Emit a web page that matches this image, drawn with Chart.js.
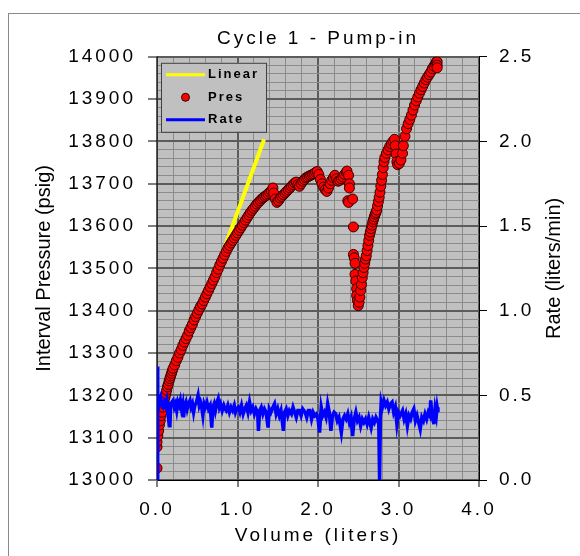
<!DOCTYPE html>
<html>
<head>
<meta charset="utf-8">
<title>Cycle 1 - Pump-in</title>
<script src="https://cdn.jsdelivr.net/npm/chart.js@4.4.1/dist/chart.umd.min.js"></script>
<style>
  html, body { margin: 0; padding: 0; background: #fff; }
  #wrap { position: relative; width: 580px; height: 556px; }
</style>
</head>
<body>
<div id="wrap"><canvas id="pumpChart" width="580" height="556"></canvas></div>
<script>
// --- Pump-in data ---
const chartTitle = 'Cycle 1 - Pump-in';
const volumeTitle = 'Volume (liters)';
const pressureTitle = 'Interval Pressure (psig)';
const rateTitle = 'Rate (liters/min)';

// Interval pressure readings (liters, psig)
const presVolume = [
  0.00, 0.00, 0.00, 0.01, 0.02, 0.03, 0.04, 0.05, 0.06, 0.07, 0.08, 0.09, 0.10, 0.11, 0.12, 0.13,
  0.14, 0.15, 0.16, 0.17, 0.18, 0.19, 0.20, 0.22, 0.24, 0.26, 0.28, 0.30, 0.32, 0.34, 0.36, 0.38,
  0.40, 0.42, 0.44, 0.46, 0.48, 0.50, 0.52, 0.54, 0.56, 0.58, 0.60, 0.62, 0.64, 0.66, 0.68, 0.70,
  0.72, 0.74, 0.76, 0.78, 0.80, 0.82, 0.84, 0.86, 0.88, 0.90, 0.92, 0.94, 0.96, 0.98, 1.00, 1.02,
  1.04, 1.06, 1.08, 1.10, 1.12, 1.14, 1.16, 1.18, 1.20, 1.22, 1.24, 1.26, 1.28, 1.30, 1.32, 1.34,
  1.36, 1.38, 1.40, 1.42, 1.44, 1.45, 1.47, 1.49, 1.51, 1.53, 1.55, 1.57, 1.59, 1.61, 1.63, 1.65,
  1.67, 1.69, 1.71, 1.73, 1.75, 1.77, 1.79, 1.81, 1.83, 1.85, 1.87, 1.89, 1.91, 1.93, 1.95, 1.97,
  1.99, 2.01, 2.03, 2.05, 2.07, 2.09, 2.11, 2.13, 2.15, 2.17, 2.19, 2.21, 2.23, 2.25, 2.27, 2.29,
  2.31, 2.33, 2.35, 2.36, 2.38, 2.39, 2.39, 2.37, 2.38, 2.43, 2.44, 2.44, 2.45, 2.46, 2.46, 2.47,
  2.48, 2.48, 2.49, 2.50, 2.51, 2.52, 2.53, 2.54, 2.55, 2.56, 2.57, 2.58, 2.59, 2.60, 2.61, 2.62,
  2.63, 2.64, 2.65, 2.66, 2.67, 2.68, 2.69, 2.70, 2.71, 2.72, 2.73, 2.74, 2.75, 2.76, 2.77, 2.78,
  2.79, 2.80, 2.81, 2.82, 2.83, 2.85, 2.87, 2.89, 2.91, 2.93, 2.95, 2.96, 2.97, 2.98, 2.99, 3.01,
  3.03, 3.05, 3.06, 3.08, 3.10, 3.12, 3.14, 3.16, 3.18, 3.20, 3.22, 3.24, 3.26, 3.28, 3.30, 3.32,
  3.34, 3.36, 3.38, 3.40, 3.42, 3.44, 3.46, 3.47, 3.48, 3.48, 3.48
];
const presValue = [
  13028, 13078, 13090, 13104, 13116, 13130, 13140, 13152, 13160, 13172, 13180, 13188, 13196, 13204, 13212, 13220,
  13226, 13234, 13240, 13246, 13252, 13258, 13264, 13272, 13282, 13290, 13300, 13308, 13318, 13326, 13334, 13342,
  13352, 13360, 13368, 13378, 13386, 13394, 13402, 13410, 13416, 13424, 13432, 13440, 13448, 13456, 13464, 13472,
  13480, 13490, 13498, 13508, 13516, 13524, 13532, 13540, 13548, 13554, 13560, 13566, 13572, 13578, 13584, 13590,
  13596, 13602, 13608, 13614, 13620, 13626, 13632, 13637, 13642, 13647, 13652, 13656, 13660, 13664, 13667, 13670,
  13673, 13676, 13680, 13683, 13690, 13678, 13664, 13656, 13660, 13666, 13670, 13674, 13678, 13682, 13686, 13690,
  13694, 13698, 13702, 13704, 13698, 13694, 13700, 13706, 13710, 13714, 13716, 13718, 13720, 13722, 13724, 13727,
  13729, 13722, 13710, 13700, 13692, 13686, 13682, 13690, 13700, 13708, 13714, 13720, 13712, 13706, 13708, 13712,
  13716, 13722, 13727, 13730, 13720, 13700, 13690, 13660, 13656, 13664, 13598, 13533, 13525, 13512, 13486, 13470,
  13452, 13436, 13424, 13412, 13420, 13432, 13448, 13462, 13478, 13490, 13502, 13512, 13522, 13530, 13542, 13554,
  13566, 13578, 13586, 13594, 13602, 13610, 13616, 13622, 13628, 13632, 13638, 13648, 13658, 13668, 13680, 13694,
  13708, 13722, 13738, 13752, 13762, 13772, 13780, 13788, 13794, 13800, 13805, 13790, 13770, 13752, 13745, 13748,
  13756, 13772, 13790, 13812, 13830, 13842, 13852, 13862, 13874, 13886, 13896, 13905, 13914, 13922, 13930, 13938,
  13946, 13952, 13958, 13964, 13972, 13978, 13983, 13988, 13988, 13980, 13974
];

// Injection rate log (liters, liters/min)
const rateVolume = [
  0.000, 0.005, 0.012, 0.020, 0.030, 0.045, 0.060, 0.075, 0.090, 0.105, 0.120, 0.135, 0.150, 0.160, 0.170, 0.185,
  0.200, 0.215, 0.230, 0.245, 0.260, 0.275, 0.290, 0.305, 0.320, 0.330, 0.345, 0.360, 0.375, 0.390, 0.410, 0.425,
  0.440, 0.455, 0.470, 0.490, 0.510, 0.525, 0.540, 0.555, 0.570, 0.585, 0.600, 0.620, 0.640, 0.660, 0.680, 0.695,
  0.710, 0.725, 0.745, 0.760, 0.775, 0.790, 0.810, 0.830, 0.845, 0.860, 0.880, 0.900, 0.920, 0.940, 0.960, 0.975,
  0.990, 1.010, 1.030, 1.050, 1.070, 1.090, 1.110, 1.130, 1.150, 1.170, 1.190, 1.210, 1.230, 1.250, 1.260, 1.275,
  1.295, 1.315, 1.335, 1.355, 1.380, 1.395, 1.415, 1.440, 1.460, 1.480, 1.500, 1.520, 1.540, 1.570, 1.585, 1.605,
  1.625, 1.645, 1.670, 1.690, 1.710, 1.730, 1.750, 1.770, 1.790, 1.810, 1.840, 1.860, 1.880, 1.900, 1.920, 1.940,
  1.960, 1.980, 2.000, 2.020, 2.040, 2.060, 2.080, 2.100, 2.120, 2.140, 2.160, 2.180, 2.200, 2.220, 2.240, 2.260,
  2.290, 2.310, 2.330, 2.350, 2.370, 2.390, 2.410, 2.430, 2.450, 2.470, 2.490, 2.510, 2.530, 2.550, 2.570, 2.590,
  2.610, 2.630, 2.660, 2.680, 2.700, 2.720, 2.740, 2.755, 2.765, 2.775, 2.785, 2.800, 2.820, 2.840, 2.860, 2.880,
  2.900, 2.920, 2.940, 2.960, 2.980, 3.000, 3.020, 3.050, 3.070, 3.090, 3.110, 3.130, 3.150, 3.170, 3.190, 3.210,
  3.230, 3.250, 3.270, 3.290, 3.310, 3.330, 3.350, 3.370, 3.390, 3.400, 3.415, 3.430, 3.440, 3.455, 3.470, 3.480,
  3.490
];
const rateValue = [
  0.00, 0.67, 0.50, 0.44, 0.47, 0.49, 0.44, 0.43, 0.46, 0.44, 0.47, 0.40, 0.46, 0.31, 0.44, 0.46,
  0.47, 0.43, 0.45, 0.41, 0.46, 0.44, 0.47, 0.42, 0.45, 0.37, 0.44, 0.46, 0.42, 0.45, 0.47, 0.43,
  0.45, 0.40, 0.44, 0.46, 0.50, 0.44, 0.46, 0.43, 0.38, 0.45, 0.43, 0.46, 0.42, 0.44, 0.31, 0.43,
  0.45, 0.41, 0.46, 0.48, 0.43, 0.45, 0.41, 0.44, 0.42, 0.41, 0.44, 0.40, 0.43, 0.41, 0.44, 0.40,
  0.42, 0.43, 0.40, 0.44, 0.39, 0.42, 0.44, 0.40, 0.46, 0.41, 0.43, 0.39, 0.42, 0.40, 0.29, 0.41,
  0.43, 0.39, 0.42, 0.40, 0.31, 0.42, 0.40, 0.43, 0.45, 0.39, 0.42, 0.38, 0.41, 0.29, 0.40, 0.42,
  0.38, 0.41, 0.39, 0.43, 0.40, 0.37, 0.41, 0.41, 0.38, 0.42, 0.40, 0.37, 0.41, 0.41, 0.36, 0.40,
  0.38, 0.39, 0.36, 0.28, 0.43, 0.38, 0.40, 0.37, 0.45, 0.40, 0.29, 0.38, 0.40, 0.39, 0.35, 0.37,
  0.28, 0.36, 0.38, 0.36, 0.39, 0.34, 0.37, 0.26, 0.36, 0.40, 0.35, 0.37, 0.32, 0.36, 0.34, 0.36,
  0.33, 0.37, 0.31, 0.36, 0.34, 0.37, 0.35, 0.33, 0.00, 0.36, 0.46, 0.43, 0.47, 0.44, 0.46, 0.42,
  0.45, 0.46, 0.40, 0.43, 0.33, 0.40, 0.38, 0.41, 0.36, 0.39, 0.32, 0.38, 0.36, 0.40, 0.42, 0.35,
  0.38, 0.34, 0.30, 0.37, 0.35, 0.39, 0.36, 0.40, 0.38, 0.47, 0.39, 0.36, 0.33, 0.42, 0.38, 0.43,
  0.40
];

// Linear trend fitted to the early pressure build
const linearVolume = [0.82, 1.33];
const linearValue = [13539, 13805];

const FONT = 'Arial, "Liberation Sans", sans-serif';

function toPoints(xs, ys) {
  return xs.map((x, i) => ({ x: x, y: ys[i] }));
}

function isWhole(v, unit) {
  const n = v / unit;
  return Math.abs(n - Math.round(n)) < 1e-6;
}

// gray plot area, spaced text, side titles and outer frame
const pagePlugin = {
  id: 'page',
  beforeDraw(chart) {
    const { ctx, chartArea: a } = chart;
    ctx.letterSpacing = '3px';
    ctx.save();
    ctx.fillStyle = '#c0c0c0';
    ctx.fillRect(a.left, a.top, a.right - a.left, a.bottom - a.top);
    ctx.restore();
  },
  afterDraw(chart) {
    const { ctx, chartArea: a } = chart;
    const midY = (a.top + a.bottom) / 2;
    ctx.save();
    ctx.letterSpacing = '0px';
    ctx.fillStyle = '#000';
    ctx.font = '20px ' + FONT;
    ctx.textAlign = 'center';
    ctx.textBaseline = 'middle';
    [[44, pressureTitle], [554, rateTitle]].forEach(([x, text]) => {
      ctx.save();
      ctx.translate(x, midY);
      ctx.rotate(-Math.PI / 2);
      ctx.fillText(text, 0, 0);
      ctx.restore();
    });
    ctx.strokeStyle = '#8a8a8a';
    ctx.lineWidth = 1;
    ctx.strokeRect(8.5, 13.5, 700, 700);
    ctx.restore();
  }
};

// boxed legend in the upper left corner of the plot
const boxLegend = {
  id: 'boxLegend',
  afterDraw(chart) {
    const { ctx, chartArea: a } = chart;
    const x0 = a.left + 4, y0 = a.top + 6, w = 105, h = 69;
    ctx.save();
    ctx.fillStyle = '#c0c0c0';
    ctx.fillRect(x0, y0, w, h);
    ctx.strokeStyle = '#404040';
    ctx.lineWidth = 1;
    ctx.strokeRect(x0 + 0.5, y0 + 0.5, w, h);
    ctx.font = 'bold 13px ' + FONT;
    ctx.letterSpacing = '2px';
    ctx.textBaseline = 'middle';
    ctx.textAlign = 'left';
    chart.data.datasets.forEach((ds, i) => {
      const y = y0 + 12 + i * 22.5;
      if (ds.showLine) {
        ctx.strokeStyle = ds.borderColor;
        ctx.lineWidth = 3;
        ctx.beginPath();
        ctx.moveTo(x0 + 5, y);
        ctx.lineTo(x0 + 44, y);
        ctx.stroke();
      } else {
        ctx.fillStyle = ds.backgroundColor;
        ctx.strokeStyle = ds.borderColor;
        ctx.lineWidth = 1;
        ctx.beginPath();
        ctx.arc(x0 + 24.5, y, 4, 0, Math.PI * 2);
        ctx.fill();
        ctx.stroke();
      }
      ctx.fillStyle = '#000';
      ctx.fillText(ds.label, x0 + 47, y);
    });
    ctx.restore();
  }
};

Chart.defaults.font.family = FONT;
Chart.defaults.font.size = 19;
Chart.defaults.color = '#000';

new Chart(document.getElementById('pumpChart'), {
  type: 'scatter',
  data: {
    datasets: [
      {
        label: 'Linear',
        data: toPoints(linearVolume, linearValue),
        showLine: true,
        borderColor: '#ffff00',
        backgroundColor: '#ffff00',
        borderWidth: 4,
        pointRadius: 0,
        yAxisID: 'y',
        order: 3
      },
      {
        label: 'Pres',
        data: toPoints(presVolume, presValue),
        showLine: false,
        backgroundColor: '#ff0000',
        borderColor: '#300000',
        borderWidth: 1,
        pointRadius: 5,
        yAxisID: 'y',
        order: 2
      },
      {
        label: 'Rate',
        data: toPoints(rateVolume, rateValue),
        showLine: true,
        borderColor: '#0000ff',
        backgroundColor: '#0000ff',
        borderWidth: 3.5,
        pointRadius: 0,
        tension: 0,
        yAxisID: 'y2',
        order: 1
      }
    ]
  },
  options: {
    responsive: false,
    devicePixelRatio: 1,
    animation: false,
    layout: { padding: 0 },
    plugins: {
      legend: { display: false },
      tooltip: { enabled: false },
      title: {
        display: true,
        text: chartTitle,
        fullSize: false,
        color: '#000',
        font: { size: 19, weight: 'normal' },
        padding: { top: 27, bottom: 7 }
      }
    },
    scales: {
      x: {
        type: 'linear',
        min: 0,
        max: 4,
        afterFit(s) { s.height = 76; },
        ticks: {
          stepSize: 0.2,
          autoSkip: false,
          maxRotation: 0,
          padding: 11,
          callback: (v) => isWhole(v, 1) ? v.toFixed(1) : ''
        },
        grid: {
          color: (c) => isWhole(c.tick.value, 1) ? '#5c5c5c' : '#8c8c8c',
          lineWidth: (c) => isWhole(c.tick.value, 1) ? 2 : 1,
          tickColor: (c) => isWhole(c.tick.value, 1) ? '#000' : 'rgba(0,0,0,0)',
          tickLength: 7,
          tickWidth: 1
        },
        border: { color: '#000', width: 1 },
        title: {
          display: true,
          text: volumeTitle,
          font: { size: 19 },
          padding: { top: 0, bottom: 9 }
        }
      },
      y: {
        position: 'left',
        min: 13000,
        max: 14000,
        afterFit(s) { s.width = 157; },
        ticks: {
          stepSize: 20,
          autoSkip: false,
          padding: 12,
          callback: (v) => isWhole(v, 100) ? String(v) : ''
        },
        grid: {
          color: (c) => isWhole(c.tick.value, 100) ? '#5c5c5c' : '#8c8c8c',
          lineWidth: (c) => isWhole(c.tick.value, 100) ? 2 : 1,
          tickColor: (c) => isWhole(c.tick.value, 100) ? '#000' : 'rgba(0,0,0,0)',
          tickLength: 9,
          tickWidth: 1
        },
        border: { color: '#303030', width: 1 }
      },
      y2: {
        position: 'right',
        min: 0,
        max: 2.5,
        afterFit(s) { s.width = 101; },
        ticks: {
          stepSize: 0.5,
          padding: 12,
          callback: (v) => v.toFixed(1)
        },
        grid: {
          drawOnChartArea: false,
          tickColor: '#000',
          tickLength: 8,
          tickWidth: 1
        },
        border: { color: '#000', width: 1 }
      }
    }
  },
  plugins: [pagePlugin, boxLegend]
});
</script>
</body>
</html>
